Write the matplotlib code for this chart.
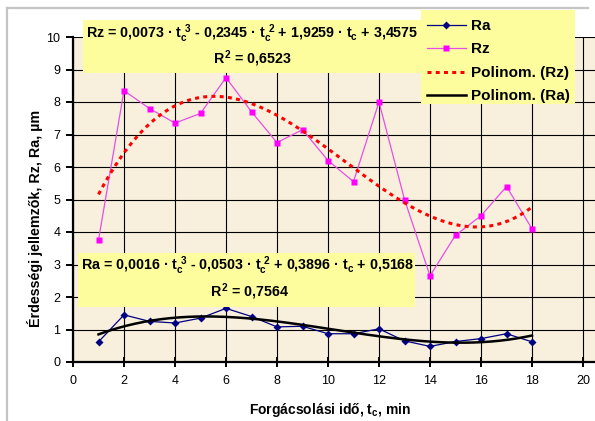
import numpy as np
import matplotlib
matplotlib.use("Agg")
import matplotlib.pyplot as plt
from matplotlib.patches import Rectangle
from matplotlib.lines import Line2D

plt.rcParams['font.family'] = ['Liberation Sans', 'DejaVu Sans']
plt.rcParams['mathtext.fontset'] = 'custom'
plt.rcParams['mathtext.rm'] = 'Liberation Sans:bold'
plt.rcParams['mathtext.it'] = 'Liberation Sans:bold'
plt.rcParams['mathtext.bf'] = 'Liberation Sans:bold'

# ---- data ----
t_c = [1, 2, 3, 4, 5, 6, 7, 8, 9, 10, 11, 12, 13, 14, 15, 16, 17, 18]
Ra = [0.62, 1.45, 1.25, 1.20, 1.35, 1.65, 1.40, 1.08, 1.10, 0.87, 0.87, 1.02,
      0.65, 0.48, 0.63, 0.72, 0.87, 0.62]
Rz = [3.75, 8.35, 7.80, 7.35, 7.65, 8.75, 7.70, 6.75, 7.15, 6.20, 5.55, 8.00,
      5.00, 2.65, 3.90, 4.50, 5.40, 4.10]
# printed trendline coefficients (highest power first)
Rz_coef = [0.0073, -0.2345, 1.9259, 3.4575]
Ra_coef = [0.0016, -0.0503, 0.3896, 0.5168]
Rz_r2 = "0,6523"
Ra_r2 = "0,7564"
x_ticks = list(range(0, 21, 2))
y_ticks = list(range(0, 11, 1))

W, H = 595, 421
fig = plt.figure(figsize=(W / 100, H / 100), dpi=100)
fig.patch.set_facecolor('white')

def fx(px):
    return px / W

def fy(py):
    return 1 - py / H

ax_left, ax_right, ax_top, ax_bot = 73, 595, 37, 362
ax = fig.add_axes([fx(ax_left), fy(ax_bot), fx(ax_right - ax_left), (ax_bot - ax_top) / H])
ax.set_facecolor('#f8f0dc')

px_per_unit = 25.5
ax.set_xlim(0, (ax_right - ax_left) / px_per_unit)
ax.set_ylim(0, 10)
ax.set_xticks(x_ticks)
ax.set_yticks(y_ticks)
ax.grid(True, color='black', lw=0.8)
ax.set_axisbelow(True)
for s in ['top', 'right']:
    ax.spines[s].set_visible(False)
for s in ['left', 'bottom']:
    ax.spines[s].set_linewidth(1.6)
    ax.spines[s].set_color('black')
ax.tick_params(axis='x', direction='inout', length=7, width=1.4, labelsize=9, pad=6)
ax.tick_params(axis='y', direction='out', length=5, width=1.4, labelsize=9, pad=4)

# data series
ax.plot(t_c, Ra, color='#000080', lw=0.9, marker='D', ms=4.5, mec='none',
        mfc='#000080', label='Ra', zorder=3)
ax.plot(t_c, Rz, color='#e64ee6', lw=0.9, marker='s', ms=4.6, mec='none',
        mfc='#ff00ff', label='Rz', zorder=3)

# cubic trendlines (least-squares fit of the series, as the spreadsheet does)
xx = np.linspace(t_c[0], t_c[-1], 200)
rz_fit = np.polyfit(t_c, Rz, 3)
ra_fit = np.polyfit(t_c, Ra, 3)
ax.plot(xx, np.polyval(rz_fit, xx), color='#ff0000', lw=2.2, dashes=(1.3, 1.4),
        label='Polinom. (Rz)', zorder=4)
ax.plot(xx, np.polyval(ra_fit, xx), color='black', lw=1.8,
        label='Polinom. (Ra)', zorder=4)

fig.text(fx(330), fy(410), 'Forgácsolási idő, $t_c$, min', fontsize=10,
         fontweight='bold', ha='center', va='center')
fig.text(fx(35), fy(218), 'Érdességi jellemzők, Rz, Ra, µm', fontsize=10.3,
         fontweight='bold', ha='center', va='center', rotation=90)

# equation boxes
ylw = '#fdfd9e'
fig.patches.append(Rectangle((fx(83), fy(73)), fx(422 - 83), (73 - 20) / H,
                             transform=fig.transFigure, fc=ylw, ec='none', zorder=5))
fig.patches.append(Rectangle((fx(78), fy(307)), fx(415 - 78), (307 - 253) / H,
                             transform=fig.transFigure, fc=ylw, ec='none', zorder=5))
# legend background
fig.patches.append(Rectangle((fx(421), fy(104)), fx(575 - 421), (104 - 10) / H,
                             transform=fig.transFigure, fc=ylw, ec='none', zorder=7))

def eq(name, c):
    def num(v):
        return ('%.4f' % abs(v)).replace('.', ',')
    s = name + ' = ' + num(c[0]) + ' · $t_c^{\\ 3}$'
    s += (' - ' if c[1] < 0 else ' + ') + num(c[1]) + ' · $t_c^{\\ 2}$'
    s += (' - ' if c[2] < 0 else ' + ') + num(c[2]) + ' · $t_c$'
    s += (' - ' if c[3] < 0 else ' + ') + num(c[3])
    return s

fs = 10.3
fig.text(fx(252), fy(34), eq('Rz', Rz_coef), fontsize=fs, fontweight='bold',
         ha='center', va='center', zorder=6)
fig.text(fx(252), fy(59), '$R^2$ = ' + Rz_r2, fontsize=fs, fontweight='bold',
         ha='center', va='center', zorder=6)
fig.text(fx(248), fy(266), eq('Ra', Ra_coef), fontsize=fs, fontweight='bold',
         ha='center', va='center', zorder=6)
fig.text(fx(249), fy(292), '$R^2$ = ' + Ra_r2, fontsize=fs, fontweight='bold',
         ha='center', va='center', zorder=6)

# legend
h, l = ax.get_legend_handles_labels()
leg = fig.legend(h, l, loc='upper left', bbox_to_anchor=(fx(427), fy(19)),
                 bbox_transform=fig.transFigure, borderaxespad=0, borderpad=0,
                 prop={'weight': 'bold', 'size': 11}, handlelength=2.55,
                 labelspacing=0.62, handletextpad=0.35, frameon=False)
leg.set_zorder(10)

# gray outer frame
fig.lines.append(Line2D([fx(7), fx(588)], [fy(8), fy(8)], transform=fig.transFigure,
                        color='#c4c4c4', lw=1.6))
fig.lines.append(Line2D([fx(7), fx(7)], [fy(8), 0], transform=fig.transFigure,
                        color='#c4c4c4', lw=1.6))

fig.savefig('out.png', dpi=100, facecolor='white')
